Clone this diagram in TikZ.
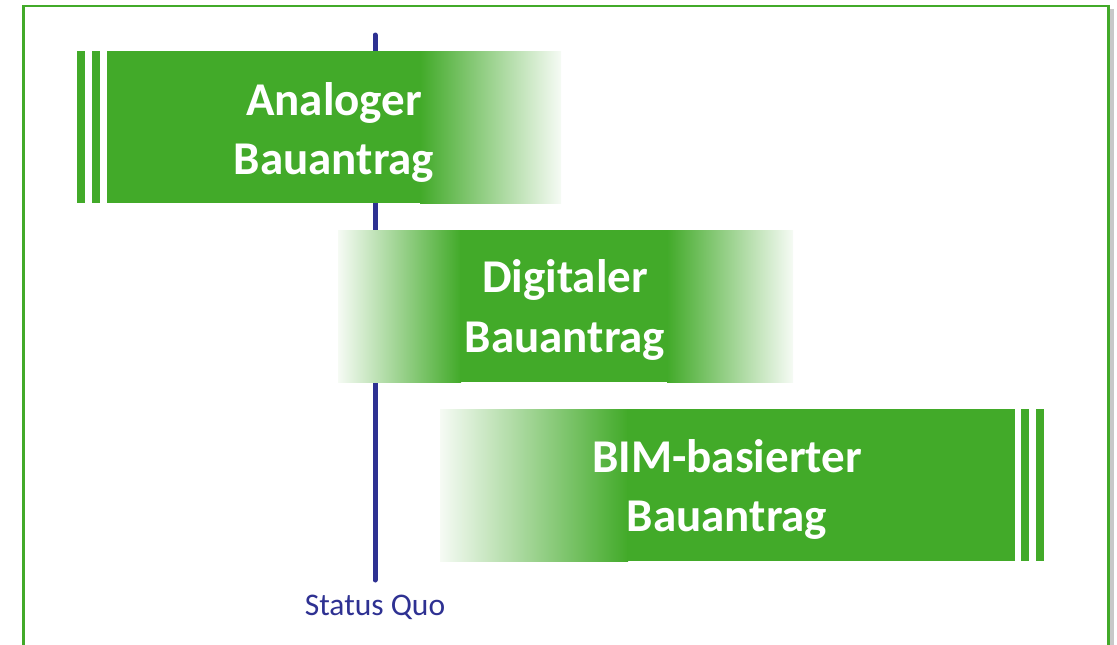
\documentclass[tikz,border=0pt]{standalone}
\usepackage{fontspec}
\setmainfont{Carlito}
\definecolor{bgreen}{RGB}{66,170,41}
\definecolor{sqblue}{RGB}{46,49,146}
\definecolor{shadowgray}{RGB}{200,200,200}
\begin{document}
\begin{tikzpicture}[x=1pt,y=-1pt,
  titletext/.style={text=white,align=center,font=\fontsize{47}{59.5}\selectfont\bfseries,inner sep=0pt},
  sqtext/.style={text=sqblue,font=\fontsize{31.5}{36}\selectfont,inner sep=0pt},
  solidpart/.style={fill=bgreen,draw=none},
  fadeout/.style={left color=bgreen,right color=bgreen!5,draw=none},
  fadein/.style={left color=bgreen!5,right color=bgreen,draw=none},
  timeline/.style={draw=sqblue,line width=5pt,line cap=round}]
\useasboundingbox (0,0) rectangle (1117,645);
\clip (0,0) rectangle (1117,645);
% frame with shadow
\fill[shadowgray] (1110,9) rectangle (1114,660);
\draw[bgreen,line width=2.2pt] (23.5,6) rectangle (1108.5,670);
% timeline
\coordinate (tltop) at (375,35);
\coordinate (tlbot) at (375,580);
\draw[timeline] (tltop) -- (tlbot);
\node[sqtext] (sq) at (375,607) {Status Quo};
% box 1
\fill[solidpart] (77,51) rectangle (85,203);
\fill[solidpart] (92,51) rectangle (100,203);
\fill[solidpart] (107,51) rectangle (421,203);
\shade[fadeout] (420,51) rectangle (561,203);
\node[titletext] (b1) at (334,132.5) {Analoger\\Bauantrag};
% box 2
\shade[fadein] (338,230) rectangle (461,382);
\fill[solidpart] (460,230) rectangle (668,382);
\shade[fadeout] (667,230) rectangle (793,382);
\node[titletext] (b2) at (565,310) {Digitaler\\Bauantrag};
% box 3
\shade[fadein] (440,409) rectangle (628,561);
\fill[solidpart] (627,409) rectangle (1015,561);
\fill[solidpart] (1021,409) rectangle (1029,561);
\fill[solidpart] (1036,409) rectangle (1044,561);
\node[titletext] (b3) at (727,489.5) {BIM-basierter\\Bauantrag};
\end{tikzpicture}
\end{document}
